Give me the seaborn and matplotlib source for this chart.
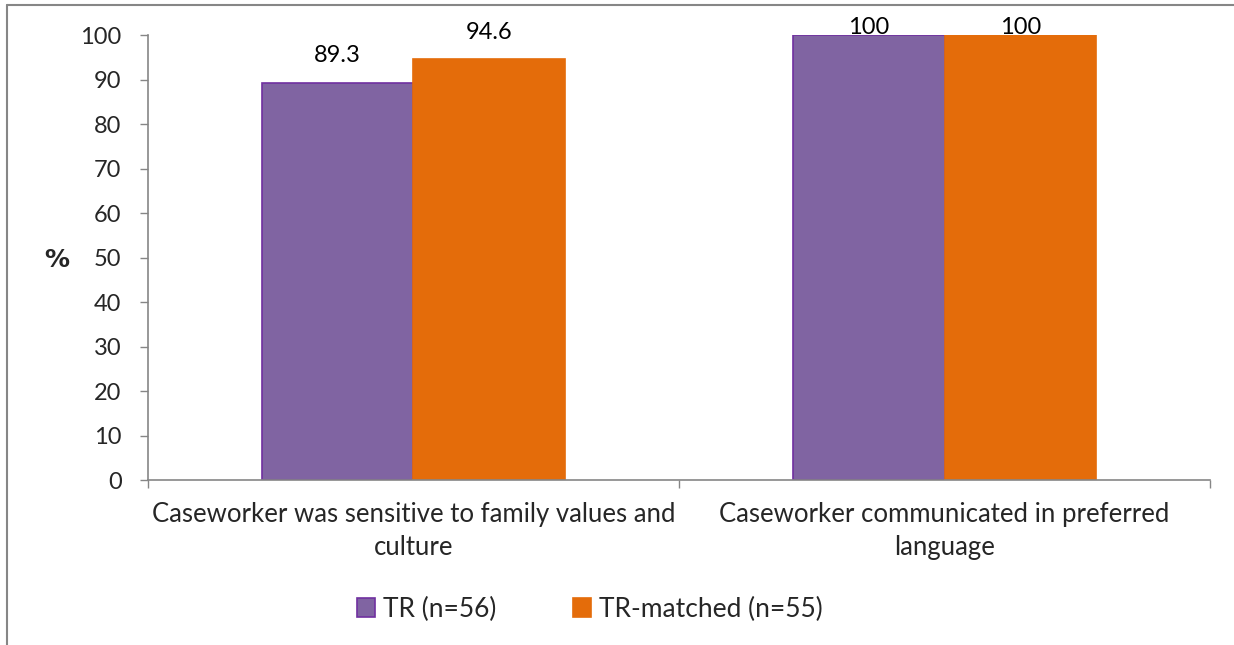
#!/usr/bin/env python

import matplotlib
matplotlib.use('Agg')
import matplotlib.pyplot as plt
from matplotlib.lines import Line2D
import pandas as pd
import seaborn as sns

categories = ['Caseworker was sensitive to family values and\nculture',
              'Caseworker communicated in preferred\nlanguage']
groups = ['TR (n=56)', 'TR-matched (n=55)']
tr_values = [89.3, 100]
matched_values = [94.6, 100]
colors = ['#8064A2', '#E46C0A']
edge_colors = ['#7030A0', '#E46C0A']
y_ticks = list(range(0, 101, 10))


def create_plot() -> None:
    sns.set_theme(style='white')
    plt.rcParams['font.family'] = ['Lato', 'DejaVu Sans']

    df = pd.DataFrame({
        'category': categories * 2,
        'group': [groups[0]] * 2 + [groups[1]] * 2,
        'value': tr_values + matched_values,
    })

    fig = plt.figure(figsize=(12.34, 6.45), dpi=100)
    ax = fig.add_axes([0.1199, 0.2558, 0.8607, 0.6899])

    sns.barplot(data=df, x='category', y='value', hue='group', palette=colors,
                width=0.57, ax=ax, saturation=1, errorbar=None)

    for cont, ec in zip(ax.containers, edge_colors):
        for bar in cont:
            bar.set_edgecolor(ec)
            bar.set_linewidth(1.2)
            # keep labels inside the plot area like the original
            h = bar.get_height()
            y = min(h + 6, 101.8)
            ax.text(bar.get_x() + bar.get_width() / 2, y, '{:g}'.format(h),
                    ha='center', va='center', fontsize=17, color='#000000')

    ax.set_ylim(0, 100)
    ax.set_xlim(-0.5, 1.5)
    ax.set_yticks(y_ticks)
    ax.set_yticklabels([str(t) for t in y_ticks], fontsize=17)
    ax.set_xticks([0, 1])
    ax.set_xticklabels(categories, fontsize=18.5, linespacing=1.4)
    ax.set_xticks([-0.5, 0.5, 1.5], minor=True)
    ax.tick_params(axis='x', which='major', length=0, pad=16)
    ax.tick_params(axis='x', which='minor', length=6, width=1, color='#868686',
                   direction='out', bottom=True)
    ax.tick_params(axis='y', length=6, width=1, color='#868686', direction='out',
                   left=True, pad=13)

    ax.set_xlabel('')
    ax.set_ylabel('%', rotation=0, fontsize=18, fontweight='bold', va='center', ha='center',
                  family='DejaVu Sans')
    ax.yaxis.set_label_coords((57 - 148) / 1062, (480 - 260) / 445)

    for side in ['top', 'right']:
        ax.spines[side].set_visible(False)
    for side in ['left', 'bottom']:
        ax.spines[side].set_color('#868686')
        ax.spines[side].set_linewidth(1.2)

    if ax.get_legend() is not None:
        ax.get_legend().remove()
    handles = [cont.patches[0] for cont in ax.containers]
    fig.legend(handles, groups, loc='center', bbox_to_anchor=(0.478, 1 - 609 / 645), ncol=2,
               frameon=False, fontsize=19, handlelength=0.7, handleheight=0.7,
               handletextpad=0.3, columnspacing=2.9)

    # outer chart frame, partly cropped in the original
    fig.add_artist(Line2D([7 / 1234, 7 / 1234], [0, 1 - 5 / 645], transform=fig.transFigure,
                          color='#868686', lw=1.5))
    fig.add_artist(Line2D([7 / 1234, 1], [1 - 5 / 645, 1 - 5 / 645], transform=fig.transFigure,
                          color='#868686', lw=1.5))

    plt.savefig('out.png', dpi=100)


def main():
    create_plot()


if __name__ == '__main__':
    main()
